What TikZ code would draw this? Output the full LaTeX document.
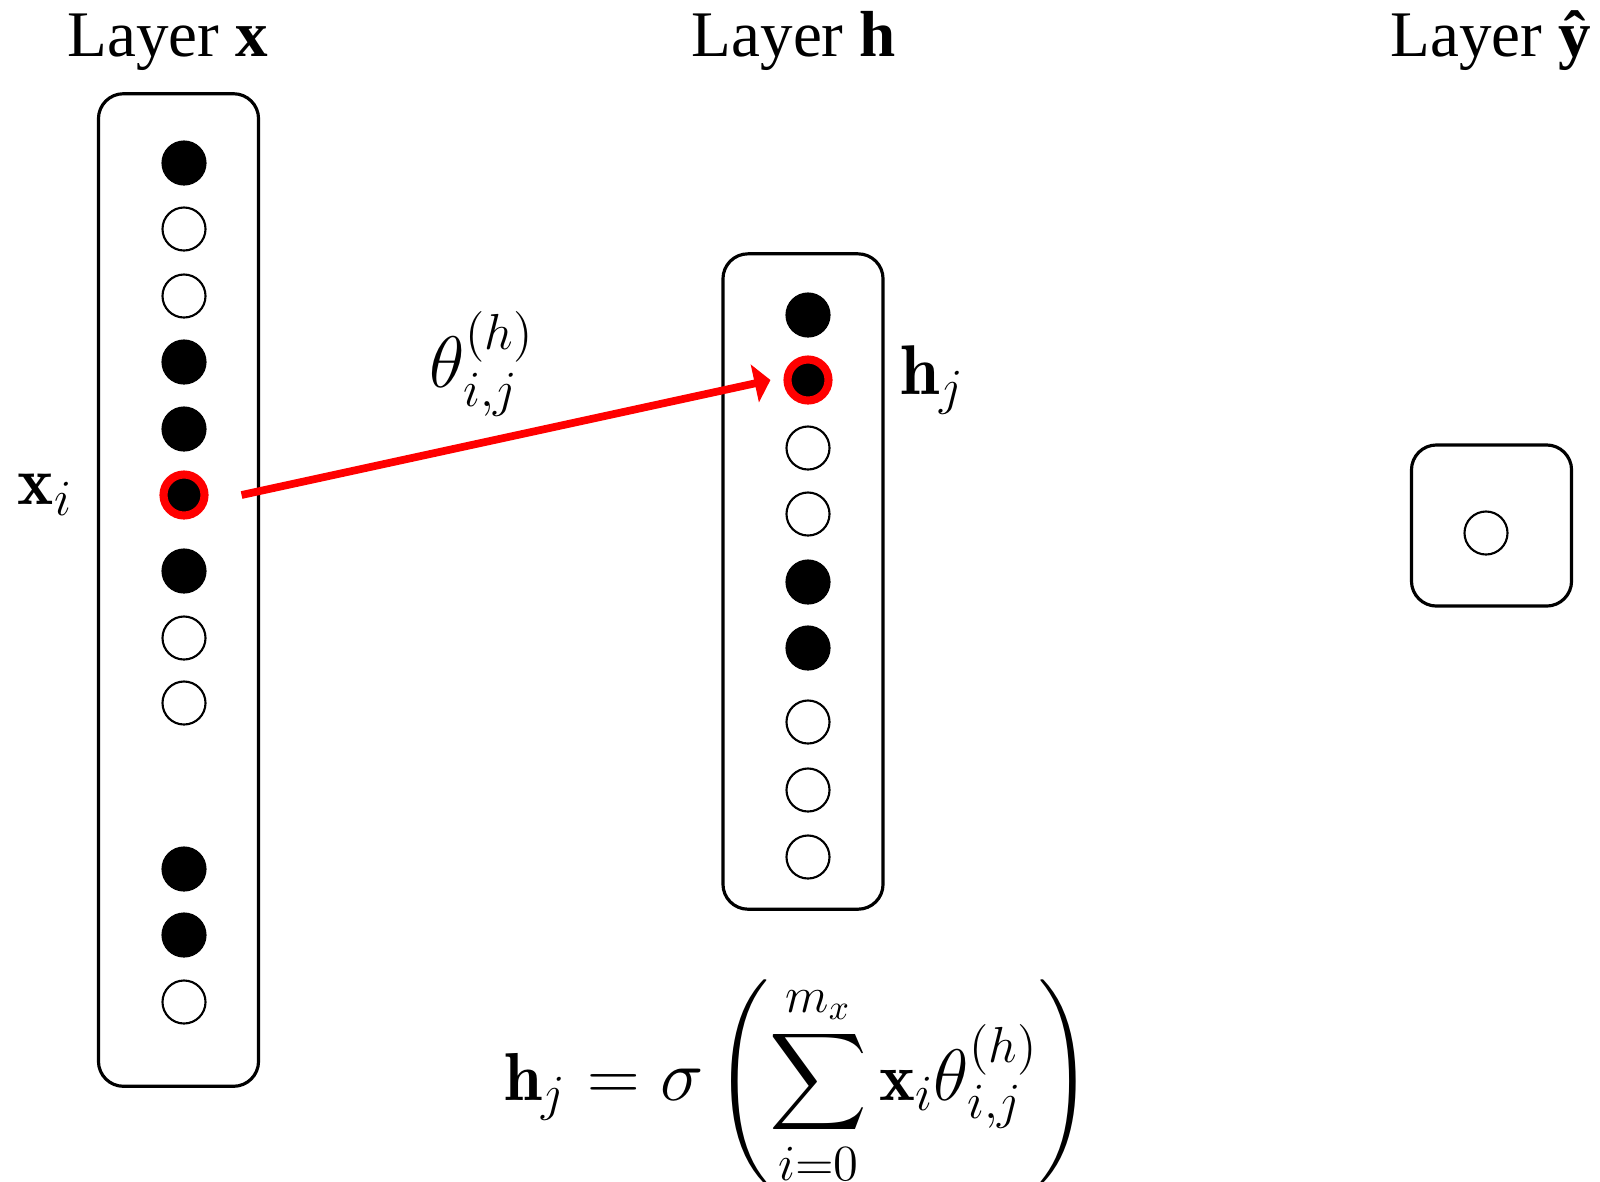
\documentclass[tikz,border=0pt]{standalone}
\usepackage{amsmath}
\usepackage{amssymb}
\usepackage{fontspec}
\newfontfamily\layerfont{Liberation Serif}
\usetikzlibrary{positioning, arrows.meta}

\begin{document}
\begin{tikzpicture}[
    x=0.01cm, y=-0.01cm,
    font=\fontsize{20}{24}\selectfont,
    layer/.style={draw, line width=0.9pt, rounded corners=2.5mm, minimum width=1.6cm},
    unit/.style={circle, draw, line width=0.6pt, minimum size=4.3mm, inner sep=0pt},
    fired/.style={unit, fill=black},
    idle/.style={unit, fill=white},
    chosen/.style={unit, fill=black, draw=red, line width=2.3pt, minimum size=4.1mm},
    title/.style={font=\layerfont\fontsize{18.5}{22}\selectfont, anchor=base},
    lbl/.style={inner sep=0pt},
    arrow/.style={-{Triangle[length=1.6mm, width=3.8mm]}, red, line width=2.2pt},
]
\useasboundingbox (0,0) rectangle (1600,1181);

% --- LAYER TITLES ---
\node[title] (tx) at (168,56) {Layer \textbf{x}};
\node[title] (th) at (794,56) {Layer \textbf{h}};
\node[title] (ty) at (1491,56) {Layer \textbf{ŷ}};

% --- LAYER BOXES ---
\node[layer, minimum height=9.92cm] (xbox) at (178.5,590) {};
\node[layer, minimum height=6.55cm] (hbox) at (803,581.5) {};
\node[layer, minimum height=1.61cm] (ybox) at (1491.5,525.5) {};

% --- UNITS (input, hidden, output) ---
\foreach \py/\kind [count=\k] in {163/fired, 229/idle, 296/idle, 362/fired, 429/fired, 495/chosen,
        571/fired, 638/idle, 703/idle, 869/fired, 935/fired, 1002/idle}
    \node[\kind] (x\k) at (184,\py) {};
\foreach \py/\kind [count=\k] in {315/fired, 380/chosen, 448/idle, 514/idle, 582/fired,
        648/fired, 722/idle, 790/idle, 857/idle}
    \node[\kind] (h\k) at (808,\py) {};
\node[idle] (yhat) at (1486,533) {};

% --- LABELS ---
\node[lbl, left=8.6mm of x6, font=\fontsize{19.5}{23}\selectfont] (xlab) {$\mathbf{x}_i$};
\node[lbl, right=6.7mm of h2] (hlab) {$\mathbf{h}_j$};
\node[lbl] (theta) at (482,364) {$\theta^{(h)}_{i,j}$};

% weight from x_i to h_j
\draw[arrow] ([xshift=3.3mm]x6.east) -- ([xshift=-1.3mm]h2.west);

% --- UPDATE RULE ---
\node[anchor=base, font=\fontsize{19.3}{23}\selectfont] (eq) at (798,1100) {$\displaystyle \mathbf{h}_j = \sigma\left(\sum_{i=0}^{m_x}\mathbf{x}_i\theta^{(h)}_{i,j}\right)$};

\end{tikzpicture}
\end{document}
